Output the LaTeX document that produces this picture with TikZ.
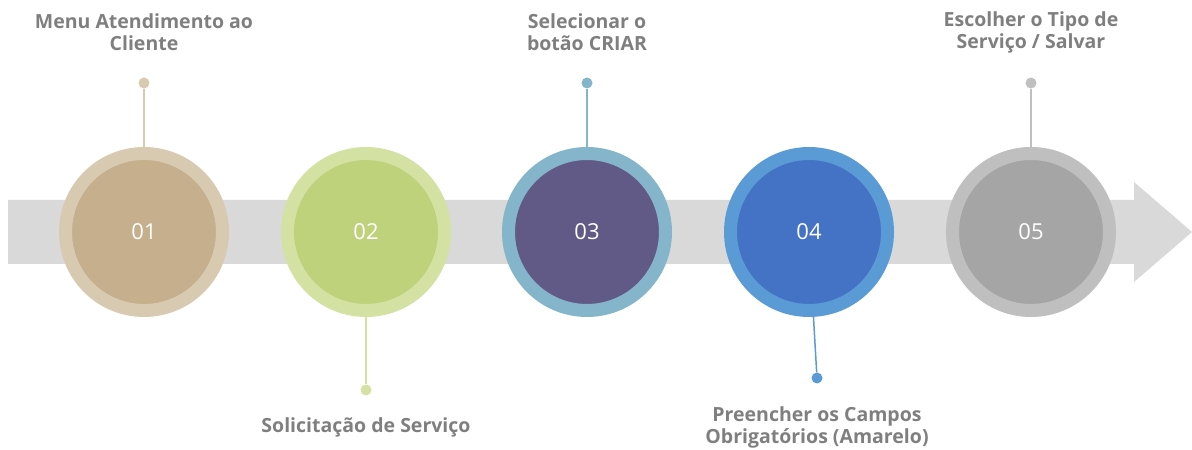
\documentclass[tikz,border=0pt]{standalone}
\usepackage{fontspec}
\setmainfont{Open Sans}
\usepackage{tikz}

\definecolor{bandgray}{HTML}{D9D9D9}
\definecolor{labelgray}{HTML}{7F7F7F}
\definecolor{ringA}{HTML}{D8CAB1}
\definecolor{fillA}{HTML}{C5AF8C}
\definecolor{ringB}{HTML}{D3E1A3}
\definecolor{fillB}{HTML}{BDD27A}
\definecolor{ringC}{HTML}{84B5CB}
\definecolor{fillC}{HTML}{625A86}
\definecolor{ringD}{HTML}{5B9BD5}
\definecolor{fillD}{HTML}{4472C4}
\definecolor{ringE}{HTML}{BFBFBF}
\definecolor{fillE}{HTML}{A5A5A5}

\tikzset{
  stepcircle/.style={circle, inner sep=0pt, minimum size=157pt, line width=13pt,
    font=\fontsize{22}{26}\selectfont, text=white},
  stemdot/.style={circle, inner sep=0pt, minimum size=11pt},
  steplabel/.style={align=center, text=labelgray,
    font=\fontsize{19.5}{22}\selectfont\bfseries}
}

\begin{document}
\begin{tikzpicture}[x=1pt, y=1pt]
    \useasboundingbox (0, 0) rectangle (1192, 450);
    % band with arrow head
    \fill[bandgray] (8, 186) -- (1134, 186) -- (1134, 168) -- (1192, 218)
      -- (1134, 268) -- (1134, 250) -- (8, 250) -- cycle;
    % steps
    \node[stepcircle, draw=ringA, fill=fillA] (c1) at (144, 218) {01};
    \node[stepcircle, draw=ringB, fill=fillB] (c2) at (366, 218) {02};
    \node[stepcircle, draw=ringC, fill=fillC] (c3) at (587, 218) {03};
    \node[stepcircle, draw=ringD, fill=fillD] (c4) at (809, 218) {04};
    \node[stepcircle, draw=ringE, fill=fillE] (c5) at (1031, 218) {05};
    % stems
    \node[stemdot, fill=ringA] (d1) at (144, 367) {};
    \node[stemdot, fill=ringB] (d2) at (366, 60) {};
    \node[stemdot, fill=ringC] (d3) at (587, 367) {};
    \node[stemdot, fill=ringD] (d4) at (817, 72) {};
    \node[stemdot, fill=ringE] (d5) at (1031, 367) {};
    \draw[ringA, line width=1.5pt] (d1) -- (c1);
    \draw[ringB, line width=1.5pt] (d2) -- (c2);
    \draw[ringC, line width=1.5pt] (d3) -- (c3);
    \draw[ringD, line width=1.5pt] (d4) -- (c4.-87);
    \draw[ringE, line width=1.5pt] (d5) -- (c5);
    % labels
    \node[steplabel] (l1) at (144, 418) {Menu Atendimento ao\\Cliente};
    \node[steplabel] (l2) at (366, 23) {Solicitação de Serviço};
    \node[steplabel] (l3) at (587, 418) {Selecionar o\\botão CRIAR};
    \node[steplabel] (l4) at (817, 23) {Preencher os Campos\\Obrigatórios (Amarelo)};
    \node[steplabel] (l5) at (1031, 418) {Escolher o Tipo de\\Serviço / Salvar};
\end{tikzpicture}
\end{document}
